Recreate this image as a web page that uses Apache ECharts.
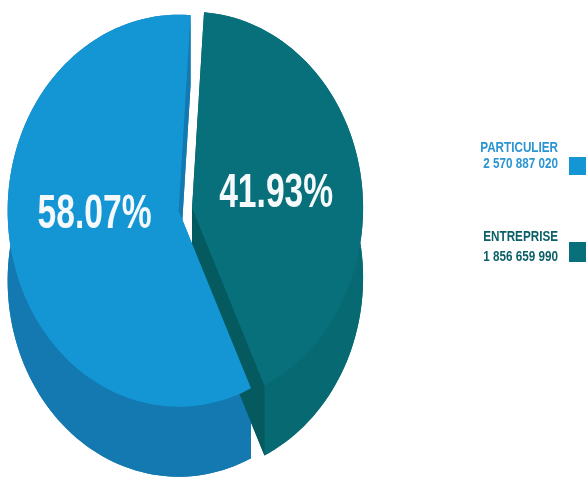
<!DOCTYPE html>
<html>
<head>
<meta charset="utf-8">
<script src="https://cdn.jsdelivr.net/npm/echarts@6/dist/echarts.min.js"></script>
<style>
  html, body { margin: 0; padding: 0; background: #ffffff; }
  #chart { width: 587px; height: 482px; }
</style>
</head>
<body>
<div id="chart"></div>
<script>
// Share of the amount by customer type
const categories = ['PARTICULIER', 'ENTREPRISE'];
const values = [2570887020, 1856659990];
const valueLabels = ['2 570 887 020', '1 856 659 990'];

// Styling
const topColors = ['#1596d4', '#07707a'];
const wallColors = ['#1379b0', '#076a73'];
const cutColors = ['#1379b0', '#055a60'];
const textColors = ['#2a95d2', '#0b5f67'];
const explode = [0.02, 0.06];     // outward shift of each slice, in radius units
const START_DEG = 86;             // slices sweep counter-clockwise from here
const DEPTH = 0.357;              // wall height, in y-axis units
const FONT = '"Liberation Sans", Arial, sans-serif';

const total = values.reduce((a, b) => a + b, 0);
let acc = START_DEG;
const sliceData = values.map((v, i) => {
  const span = v / total * 360;
  const s = acc;
  acc += span;
  return [s, acc, v / total * 100, i];
});

const rad = d => d * Math.PI / 180;

function sliceCenter(a0, a1, i) {
  const mid = rad((a0 + a1) / 2);
  return [explode[i] * Math.cos(mid), explode[i] * Math.sin(mid)];
}

function arc(api, c, a0, a1, dz) {
  const pts = [];
  const n = Math.max(8, Math.ceil(Math.abs(a1 - a0) / 2));
  for (let k = 0; k <= n; k++) {
    const a = rad(a0 + (a1 - a0) * k / n);
    pts.push(api.coord([c[0] + Math.cos(a), c[1] + Math.sin(a) - dz]));
  }
  return pts;
}

function renderWalls(params, api) {
  const a0 = api.value(0), a1 = api.value(1), i = api.value(3);
  const c = sliceCenter(a0, a1, i);
  const cTop = api.coord([c[0], c[1]]);
  const cBot = api.coord([c[0], c[1] - DEPTH]);
  const topArc = arc(api, c, a0, a1, 0);
  const botArc = arc(api, c, a0, a1, DEPTH);
  const children = [];
  // bottom face and curved outer wall
  children.push({ type: 'polygon', shape: { points: [cBot].concat(botArc) }, style: { fill: wallColors[i] } });
  children.push({ type: 'polygon', shape: { points: topArc.concat(botArc.slice().reverse()) }, style: { fill: wallColors[i] } });
  // the two cut faces
  [[topArc[0], botArc[0]], [topArc[topArc.length - 1], botArc[botArc.length - 1]]].forEach(([t, b]) => {
    children.push({ type: 'polygon', z2: 2, shape: { points: [cTop, t, b, cBot] }, style: { fill: cutColors[i] } });
  });
  return { type: 'group', children };
}

function renderTops(params, api) {
  const a0 = api.value(0), a1 = api.value(1), pct = api.value(2), i = api.value(3);
  const c = sliceCenter(a0, a1, i);
  const cTop = api.coord([c[0], c[1]]);
  const mid = rad((a0 + a1) / 2);
  const lp = api.coord([c[0] + 0.5 * Math.cos(mid), c[1] + 0.25 * Math.sin(mid) + 0.025]);
  return {
    type: 'group',
    children: [
      { type: 'polygon', shape: { points: [cTop].concat(arc(api, c, a0, a1, 0)) }, style: { fill: topColors[i] } },
      {
        type: 'text', x: lp[0], y: lp[1], scaleX: 0.7,
        style: {
          text: pct.toFixed(2) + '%', fill: '#f6f9fb',
          font: 'bold 48px ' + FONT, align: 'center', verticalAlign: 'middle'
        }
      }
    ]
  };
}

// Legend block on the right, text right-aligned against a colour square
const legendLayout = [
  { y1: 148, y2: 164, sq: [569, 157, 17, 18] },
  { y1: 237, y2: 257, sq: [569, 242, 17, 20] }
];
const legendGraphics = [];
categories.forEach((name, i) => {
  const L = legendLayout[i];
  [[name, L.y1], [valueLabels[i], L.y2]].forEach(([t, y]) => {
    legendGraphics.push({
      type: 'text', x: 558, y: y, scaleX: 0.78,
      style: { text: t, fill: textColors[i], font: 'bold 15px ' + FONT, align: 'right', verticalAlign: 'middle' }
    });
  });
  legendGraphics.push({
    type: 'rect', shape: { x: L.sq[0], y: L.sq[1], width: L.sq[2], height: L.sq[3] },
    style: { fill: topColors[i] }
  });
});

const chart = echarts.init(document.getElementById('chart'), null, { renderer: 'canvas' });
chart.setOption({
  animation: false,
  backgroundColor: '#ffffff',
  grid: { left: 11, top: 14, width: 342, height: 392 },
  xAxis: { type: 'value', min: -1, max: 1, show: false },
  yAxis: { type: 'value', min: -1, max: 1, show: false },
  series: [
    { name: 'walls', type: 'custom', renderItem: renderWalls, data: sliceData, clip: false, z: 1, silent: true },
    { name: 'tops', type: 'custom', renderItem: renderTops, data: sliceData, clip: false, z: 2 }
  ],
  graphic: legendGraphics
});
</script>
</body>
</html>
